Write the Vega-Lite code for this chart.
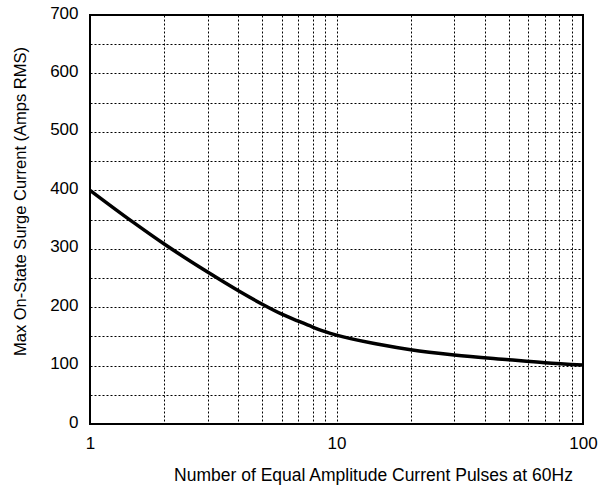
{
  "$schema": "https://vega.github.io/schema/vega-lite/v6.json",
  "autosize": "none",
  "padding": {"left": 90, "top": 15, "right": 23, "bottom": 63},
  "width": 493,
  "height": 409,
  "background": "white",
  "config": {
    "font": "Liberation Sans",
    "view": {"stroke": "black", "strokeWidth": 2},
    "axis": {"domain": false, "ticks": false, "tickSize": 0, "gridColor": "black", "gridDash": [2, 2], "gridWidth": 1, "gridOpacity": 1, "labelColor": "black", "titleColor": "black", "labelFontSize": 17, "titleFontSize": 17, "titleFontWeight": "normal", "labelOverlap": false, "labelBound": false, "labelFlush": false}
  },
  "data": {
    "values": [
      {"pulses": 1, "current": 400},
      {"pulses": 1.5, "current": 345},
      {"pulses": 2, "current": 308},
      {"pulses": 3, "current": 260},
      {"pulses": 4, "current": 228},
      {"pulses": 5, "current": 205},
      {"pulses": 6, "current": 188},
      {"pulses": 7, "current": 176},
      {"pulses": 8, "current": 166},
      {"pulses": 9, "current": 158},
      {"pulses": 10, "current": 152},
      {"pulses": 15, "current": 136},
      {"pulses": 20, "current": 127},
      {"pulses": 30, "current": 118},
      {"pulses": 50, "current": 110},
      {"pulses": 70, "current": 105},
      {"pulses": 100, "current": 101}
    ]
  },
  "mark": {"type": "line", "color": "black", "strokeWidth": 3.5, "interpolate": "monotone", "clip": true},
  "encoding": {
    "x": {
      "field": "pulses",
      "type": "quantitative",
      "scale": {"type": "log", "domain": [1, 100], "nice": false},
      "axis": {
        "values": [1, 2, 3, 4, 5, 6, 7, 8, 9, 10, 20, 30, 40, 50, 60, 70, 80, 90, 100],
        "format": "d",
        "labelExpr": "datum.value == 1 || datum.value == 10 || datum.value == 100 ? datum.label : ''",
        "labelPadding": 11,
        "title": "Number of Equal Amplitude Current Pulses at 60Hz",
        "titleFontSize": 17.5,
        "titleX": 283,
        "titleY": 56,
        "titleBaseline": "alphabetic",
        "titleAlign": "center"
      }
    },
    "y": {
      "field": "current",
      "type": "quantitative",
      "scale": {"domain": [0, 700], "nice": false},
      "axis": {
        "values": [0, 50, 100, 150, 200, 250, 300, 350, 400, 450, 500, 550, 600, 650, 700],
        "labelExpr": "datum.value % 100 == 0 ? datum.label : ''",
        "labelPadding": 12,
        "labelOffset": -2,
        "title": "Max On-State Surge Current (Amps RMS)",
        "titleFontSize": 16.5,
        "titleAngle": -90,
        "titleX": -70,
        "titleY": 186,
        "titleAlign": "center",
        "titleBaseline": "middle"
      }
    }
  }
}
